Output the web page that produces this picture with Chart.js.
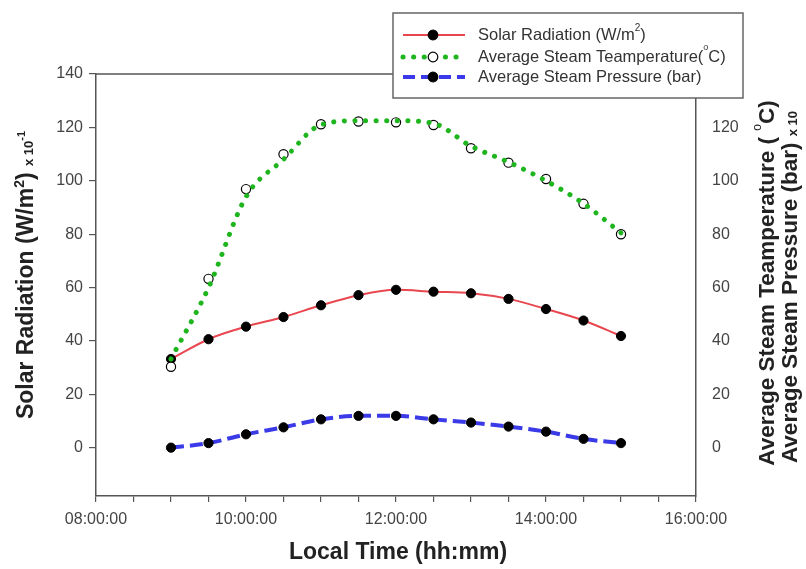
<!DOCTYPE html>
<html>
<head>
<meta charset="utf-8">
<script src="https://cdn.jsdelivr.net/npm/chart.js@4.4.1/dist/chart.umd.min.js"></script>
<style>
  html, body { margin: 0; padding: 0; background: #fff; }
  canvas { display: block; }
</style>
</head>
<body>
<canvas id="chart" width="806" height="569"></canvas>
<script>
// local time in hours (9:00 .. 15:00, every half hour)
const times = [9, 9.5, 10, 10.5, 11, 11.5, 12, 12.5, 13, 13.5, 14, 14.5, 15];
const solarRadiation = [33.3, 40.7, 45.4, 49.0, 53.4, 57.2, 59.2, 58.5, 57.9, 55.8, 52.0, 47.7, 41.9];
// measured temperature points and the smoothed curve drawn through them
const steamTemp = [30.4, 63.3, 96.9, 110.0, 121.2, 122.2, 121.9, 120.9, 112.2, 106.8, 100.7, 91.4, 80.0];
const steamTempCurve = [33.3, 60, 94, 108, 121, 122.5, 122.5, 121.5, 113, 107, 100, 91.5, 80.5];
const steamPressure = [0.1, 1.8, 5.1, 7.7, 10.7, 12.0, 12.0, 10.7, 9.5, 8.0, 6.1, 3.4, 1.8];

const leftTicks = [0, 20, 40, 60, 80, 100, 120, 140];
const rightTicks = [0, 20, 40, 60, 80, 100, 120];
const timeLabels = ['08:00:00', '10:00:00', '12:00:00', '14:00:00', '16:00:00'];

const FONT = 'Arial, "Liberation Sans", Helvetica, sans-serif';
const RED = '#e8474f';
const GREEN = '#1fb51f';
const BLUE = '#3a3ae8';
const AXIS = '#555';

const pts = (arr) => arr.map((v, i) => ({ x: times[i], y: v }));

// draws a run of text pieces (different sizes / raised) centred on x,y
function drawRich(ctx, segs, x, y, angle) {
  ctx.save();
  ctx.translate(x, y);
  ctx.rotate(angle);
  let total = 0;
  segs.forEach(s => {
    ctx.font = (s.bold ? 'bold ' : '') + s.size + 'px ' + FONT;
    s.w = ctx.measureText(s.t).width;
    total += s.w;
  });
  let cx = -total / 2;
  ctx.textBaseline = 'alphabetic';
  ctx.textAlign = 'left';
  segs.forEach(s => {
    ctx.font = (s.bold ? 'bold ' : '') + s.size + 'px ' + FONT;
    ctx.fillStyle = s.color || '#222';
    ctx.fillText(s.t, cx, 8 - (s.up || 0));
    cx += s.w;
  });
  ctx.restore();
}

const decorations = {
  id: 'decorations',
  beforeDatasetsDraw(chart) {
    const { ctx, chartArea } = chart;
    ctx.save();
    ctx.strokeStyle = AXIS;
    ctx.lineWidth = 1.5;
    ctx.beginPath();
    ctx.moveTo(chartArea.left, chartArea.top);
    ctx.lineTo(chartArea.right, chartArea.top);
    ctx.stroke();
    ctx.restore();
  },
  afterDraw(chart) {
    const ctx = chart.ctx;
    // axis titles
    drawRich(ctx, [
      { t: 'Solar Radiation (W/m', size: 23, bold: true },
      { t: '2', size: 14, bold: true, up: 9 },
      { t: ') ', size: 23, bold: true },
      { t: 'x 10', size: 13, bold: true },
      { t: '-1', size: 11, bold: true, up: 8 }
    ], 25, 275, -Math.PI / 2);
    drawRich(ctx, [
      { t: 'Average Steam Teamperature ( ', size: 22.5, bold: true },
      { t: 'o', size: 12, up: 13 },
      { t: 'C)', size: 22.5, bold: true }
    ], 766, 283, -Math.PI / 2);
    drawRich(ctx, [
      { t: 'Average Steam Pressure (bar) ', size: 22.5, bold: true },
      { t: 'x 10', size: 13, bold: true }
    ], 789, 287, -Math.PI / 2);
    drawRich(ctx, [{ t: 'Local Time (hh:mm)', size: 23, bold: true }], 398, 551, 0);

    // legend
    ctx.save();
    ctx.fillStyle = '#fff';
    ctx.strokeStyle = '#666';
    ctx.lineWidth = 1.5;
    ctx.fillRect(393, 13, 350, 85);
    ctx.strokeRect(393, 13, 350, 85);
    const rows = [
      { y: 35, color: RED, width: 2, dash: [], cap: 'butt', open: false,
        segs: [{ t: 'Solar Radiation (W/m', size: 16.5 }, { t: '2', size: 10, up: 7 }, { t: ')', size: 16.5 }] },
      { y: 57, color: GREEN, width: 5, dash: [0.1, 10.5], cap: 'round', open: true,
        segs: [{ t: 'Average Steam Teamperature(', size: 16.5 }, { t: 'o', size: 9, up: 9 }, { t: 'C)', size: 16.5 }] },
      { y: 77, color: BLUE, width: 4, dash: [12, 6], cap: 'butt', open: false,
        segs: [{ t: 'Average Steam Pressure (bar)', size: 16.5 }] }
    ];
    rows.forEach(r => {
      ctx.strokeStyle = r.color;
      ctx.lineWidth = r.width;
      ctx.lineCap = r.cap;
      ctx.setLineDash(r.dash);
      ctx.beginPath();
      ctx.moveTo(403, r.y);
      ctx.lineTo(465, r.y);
      ctx.stroke();
      ctx.setLineDash([]);
      ctx.lineCap = 'butt';
      ctx.beginPath();
      ctx.arc(433, r.y, 4.8, 0, Math.PI * 2);
      ctx.fillStyle = r.open ? '#fff' : '#000';
      ctx.fill();
      ctx.strokeStyle = '#000';
      ctx.lineWidth = 1.2;
      ctx.stroke();
      let x = 478;
      r.segs.forEach(s => {
        ctx.font = s.size + 'px ' + FONT;
        ctx.fillStyle = '#333';
        ctx.textBaseline = 'middle';
        ctx.fillText(s.t, x, r.y - (s.up || 0));
        x += ctx.measureText(s.t).width;
      });
    });
    ctx.restore();
  }
};

const ctx = document.getElementById('chart');
new Chart(ctx, {
  type: 'line',
  data: {
    datasets: [
      {
        label: 'Average Steam Teamperature curve',
        data: pts(steamTempCurve),
        borderColor: GREEN,
        borderWidth: 5,
        borderDash: [0.1, 10.5],
        borderCapStyle: 'round',
        pointRadius: 0,
        cubicInterpolationMode: 'monotone',
        yAxisID: 'y2'
      },
      {
        label: 'Average Steam Teamperature',
        data: pts(steamTemp),
        showLine: false,
        pointRadius: 4.6,
        pointBackgroundColor: '#fff',
        pointBorderColor: '#000',
        pointBorderWidth: 1.2,
        yAxisID: 'y2'
      },
      {
        label: 'Solar Radiation',
        data: pts(solarRadiation),
        borderColor: RED,
        borderWidth: 2,
        cubicInterpolationMode: 'monotone',
        pointRadius: 4.6,
        pointBorderWidth: 1,
        pointBackgroundColor: '#000',
        pointBorderColor: '#000',
        yAxisID: 'y'
      },
      {
        label: 'Average Steam Pressure',
        data: pts(steamPressure),
        borderColor: BLUE,
        borderWidth: 4,
        borderDash: [13, 6],
        cubicInterpolationMode: 'monotone',
        pointRadius: 4.6,
        pointBorderWidth: 1,
        pointBackgroundColor: '#000',
        pointBorderColor: '#000',
        yAxisID: 'y2'
      }
    ]
  },
  options: {
    responsive: false,
    animation: false,
    devicePixelRatio: 1,
    layout: { padding: { top: 74, left: 0, right: 0, bottom: 0 } },
    plugins: { legend: { display: false }, tooltip: { enabled: false } },
    scales: {
      x: {
        type: 'linear',
        min: 8,
        max: 16,
        afterFit: (s) => { s.height = 73; },
        border: { color: AXIS, width: 1.5 },
        grid: { drawOnChartArea: false, tickLength: 6, color: AXIS, lineWidth: 1.2 },
        ticks: {
          stepSize: 0.5,
          autoSkip: false,
          maxRotation: 0,
          padding: 8,
          color: '#444',
          font: { family: FONT, size: 16 },
          callback: (v) => {
            const idx = timeLabels.findIndex(l => parseInt(l, 10) === v);
            return idx >= 0 ? timeLabels[idx] : '';
          }
        }
      },
      y: {
        position: 'left',
        min: -18,
        max: 140,
        afterFit: (s) => { s.width = 96; },
        afterBuildTicks: (s) => { s.ticks = leftTicks.map(v => ({ value: v })); },
        border: { color: AXIS, width: 1.5 },
        grid: { drawOnChartArea: false, tickLength: 7, color: AXIS, lineWidth: 1.2 },
        ticks: { padding: 6, color: '#444', font: { family: FONT, size: 16 } }
      },
      y2: {
        position: 'right',
        min: -18,
        max: 140,
        afterFit: (s) => { s.width = 110; },
        afterBuildTicks: (s) => { s.ticks = rightTicks.map(v => ({ value: v })); },
        border: { color: AXIS, width: 1.5 },
        grid: { drawOnChartArea: false, drawTicks: false },
        ticks: { padding: 16, color: '#444', font: { family: FONT, size: 16 } }
      }
    }
  },
  plugins: [decorations]
});
</script>
</body>
</html>
